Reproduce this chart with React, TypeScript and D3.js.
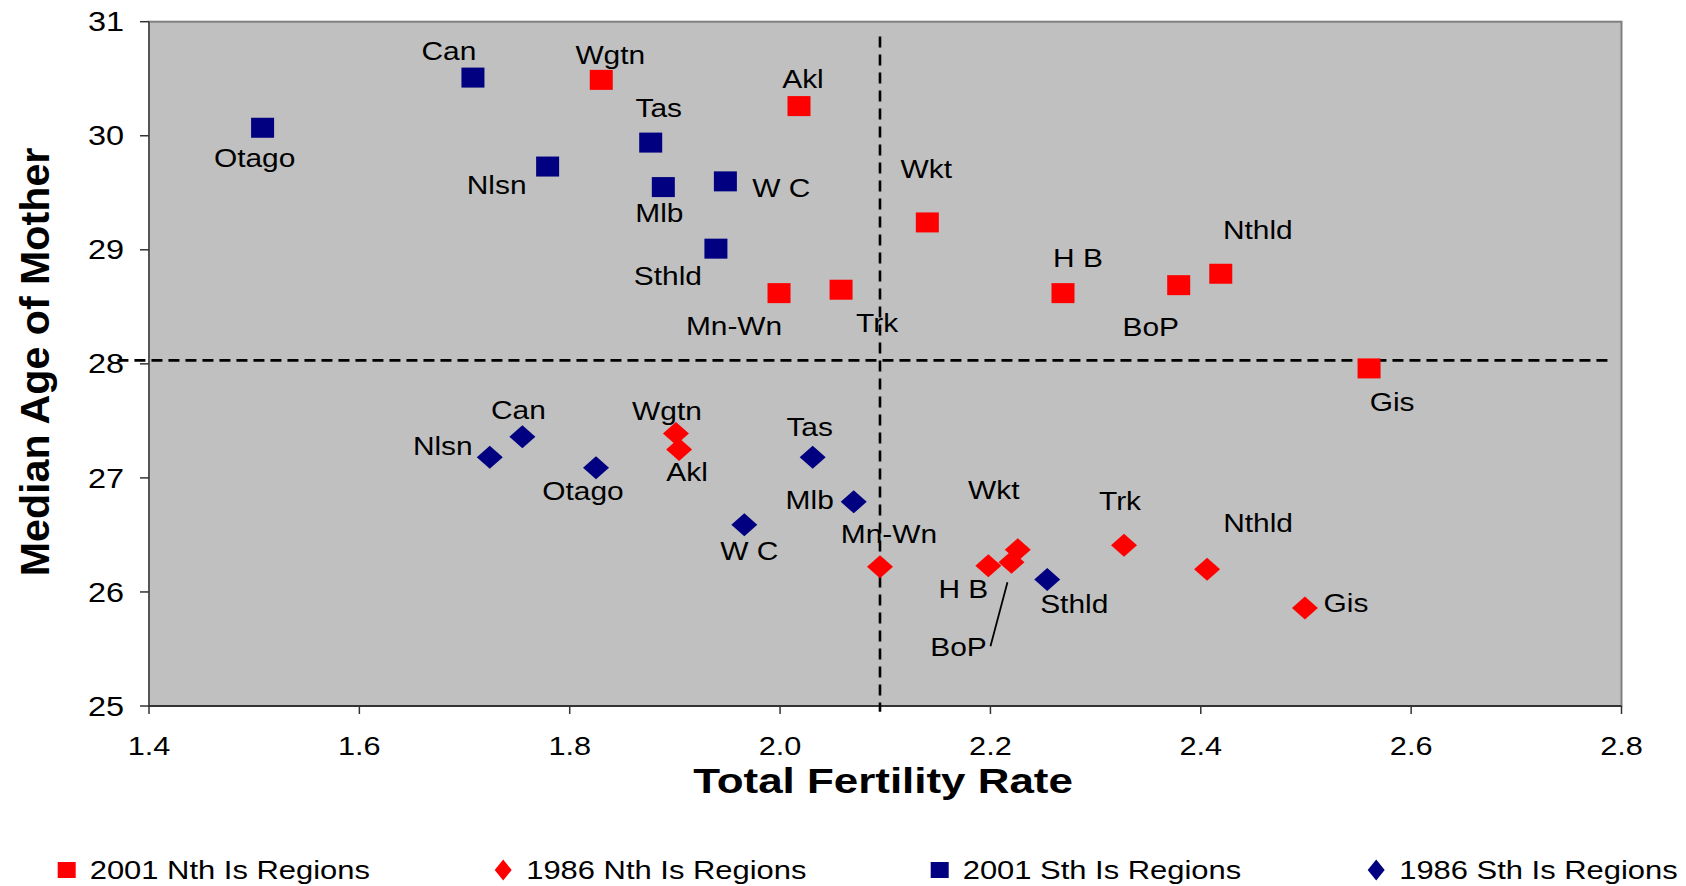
import React from "react";
import * as d3 from "d3";

// ---------- data ----------
const nth2001Names = ["Wgtn", "Akl", "Wkt", "Mn-Wn", "Trk", "H B", "BoP", "Nthld", "Gis"];
const nth2001TFR = [1.830, 2.018, 2.140, 1.999, 2.058, 2.269, 2.379, 2.419, 2.560];
const nth2001Age = [30.49, 30.26, 29.24, 28.62, 28.65, 28.62, 28.69, 28.79, 27.96];

const nth1986Names = ["Wgtn", "Akl", "Mn-Wn", "Wkt", "H B", "BoP", "Trk", "Nthld", "Gis"];
const nth1986TFR = [1.901, 1.904, 2.095, 2.226, 2.198, 2.220, 2.327, 2.406, 2.499];
const nth1986Age = [27.39, 27.25, 26.22, 26.37, 26.23, 26.26, 26.41, 26.20, 25.86];

const sth2001Names = ["Otago", "Can", "Tas", "Nlsn", "Mlb", "W C", "Sthld"];
const sth2001TFR = [1.508, 1.708, 1.877, 1.779, 1.889, 1.948, 1.939];
const sth2001Age = [30.07, 30.51, 29.94, 29.73, 29.55, 29.60, 29.01];

const sth1986Names = ["Can", "Nlsn", "Otago", "Tas", "Mlb", "W C", "Sthld"];
const sth1986TFR = [1.755, 1.724, 1.825, 2.031, 2.070, 1.966, 2.254];
const sth1986Age = [27.36, 27.18, 27.09, 27.18, 26.79, 26.59, 26.11];

const seriesNames = ["2001 Nth Is Regions", "1986 Nth Is Regions", "2001 Sth Is Regions", "1986 Sth Is Regions"];

const xTicks = [1.4, 1.6, 1.8, 2.0, 2.2, 2.4, 2.6, 2.8];
const yTicks = [25, 26, 27, 28, 29, 30, 31];

const refTFR = 2.095;
const refAge = 28.03;

const xTitle = "Total Fertility Rate";
const yTitle = "Median Age of Mother";

// ---------- label placement (px offsets from marker centre: text centre x, baseline y) ----------
const nth2001LabelOff = [[9, -16], [4, -18], [-1, -44], [-45, 42], [36, 42], [15, -26], [-28, 51], [37, -35], [23, 43]];
const nth1986LabelOff = [[-9, -13], [8, 32], [9, -24], [-24, -51], [-25, 32], [-53, 94], [-4, -35], [51, -37], [41, 4]];
const sth2001LabelOff = [[-8, 39], [-24, -18], [8, -26], [-51, 27], [-4, 35], [56, 16], [-48, 36]];
const sth1986LabelOff = [[-4, -18], [-47, -2], [-13, 32], [-3, -21], [-44, 7], [5, 35], [27, 34]];
// leader line for 1986 BoP (relative to marker)
const bopLeader = [-4, 20, -21, 84];

// ---------- styles ----------
const W = 1686, H = 886;
const RED = "#FF0000", NAVY = "#000080";
const FONT = "'Liberation Sans', Arial, sans-serif";

function T({ x, y, size, sx = 1.18, anchor = "middle", bold = false, rotate = 0, children, dy }: any) {
  return (
    <text
      transform={`translate(${x},${y}) rotate(${rotate}) scale(${sx},1)`}
      fontFamily={FONT}
      fontSize={size}
      fontWeight={bold ? "bold" : "normal"}
      textAnchor={anchor}
      dy={dy}
      fill="#000"
    >
      {children}
    </text>
  );
}

function Square({ cx, cy, w, h, color }: any) {
  return <rect x={cx - w / 2} y={cy - h / 2} width={w} height={h} fill={color} />;
}
function Diamond({ cx, cy, w, h, color }: any) {
  return (
    <path
      d={`M${cx},${cy - h / 2}L${cx + w / 2},${cy}L${cx},${cy + h / 2}L${cx - w / 2},${cy}Z`}
      fill={color}
    />
  );
}

export default function App() {
  const left = 149, right = 1621.5, top = 21.7, bottom = 706;
  const x = d3.scaleLinear().domain([1.4, 2.8]).range([left, right]);
  const y = d3.scaleLinear().domain([25, 31]).range([bottom, top]);
  const fmt = d3.format(".1f");

  const series = [
    { names: nth2001Names, tfr: nth2001TFR, age: nth2001Age, off: nth2001LabelOff, color: RED, shape: "sq" },
    { names: nth1986Names, tfr: nth1986TFR, age: nth1986Age, off: nth1986LabelOff, color: RED, shape: "di" },
    { names: sth2001Names, tfr: sth2001TFR, age: sth2001Age, off: sth2001LabelOff, color: NAVY, shape: "sq" },
    { names: sth1986Names, tfr: sth1986TFR, age: sth1986Age, off: sth1986LabelOff, color: NAVY, shape: "di" },
  ];

  const bopIdx = nth1986Names.indexOf("BoP");
  const bx = x(nth1986TFR[bopIdx]), by = y(nth1986Age[bopIdx]);

  const legendX0 = 66.7, legendStep = 436.5, legendY = 870;

  return (
    <svg width={W} height={H} style={{ position: "absolute", left: 0, top: 0, background: "#fff" }}>
      <rect x={0} y={0} width={W} height={H} fill="#fff" />
      {/* plot area */}
      <rect x={left} y={top} width={right - left} height={bottom - top} fill="#C0C0C0" stroke="#808080" strokeWidth={2} />
      <line x1={left} y1={top} x2={left} y2={bottom} stroke="#555" strokeWidth={2} />
      <line x1={left} y1={bottom} x2={right} y2={bottom} stroke="#333" strokeWidth={2} />

      {/* y ticks */}
      {yTicks.map((t) => (
        <g key={"yt" + t}>
          <line x1={left - 9} x2={left} y1={y(t)} y2={y(t)} stroke="#333" strokeWidth={1.5} />
          <T x={124} y={y(t)} size={27.5} sx={1.18} anchor="end" dy="0.35em">{String(t)}</T>
        </g>
      ))}
      {/* x ticks */}
      {xTicks.map((t) => (
        <g key={"xt" + t}>
          <line x1={x(t)} x2={x(t)} y1={bottom} y2={bottom + 8} stroke="#333" strokeWidth={1.5} />
          <T x={x(t)} y={755} size={26} sx={1.18}>{fmt(t)}</T>
        </g>
      ))}

      {/* reference dashed lines */}
      <line x1={x(refTFR)} x2={x(refTFR)} y1={y(30.87)} y2={y(24.95)} stroke="#000" strokeWidth={2.6} strokeDasharray="11,7" />
      <line x1={x(1.37)} x2={x(2.792)} y1={y(refAge)} y2={y(refAge)} stroke="#000" strokeWidth={2.8} strokeDasharray="11,6" />

      {/* markers */}
      {series.map((s, si) =>
        s.tfr.map((v, i) =>
          s.shape === "sq" ? (
            <Square key={`m${si}-${i}`} cx={x(v)} cy={y(s.age[i])} w={23} h={20} color={s.color} />
          ) : (
            <Diamond key={`m${si}-${i}`} cx={x(v)} cy={y(s.age[i])} w={26} h={23} color={s.color} />
          )
        )
      )}

      {/* labels */}
      {series.map((s, si) =>
        s.names.map((n, i) => (
          <T key={`l${si}-${i}`} x={x(s.tfr[i]) + s.off[i][0]} y={y(s.age[i]) + s.off[i][1]} size={26} sx={1.15}>
            {n}
          </T>
        ))
      )}
      <line x1={bx + bopLeader[0]} y1={by + bopLeader[1]} x2={bx + bopLeader[2]} y2={by + bopLeader[3]} stroke="#000" strokeWidth={1.8} />

      {/* axis titles */}
      <T x={883} y={793} size={36} bold sx={1.22}>{xTitle}</T>
      <T x={49} y={362} size={40} bold sx={1.03} rotate={-90}>{yTitle}</T>

      {/* legend */}
      {seriesNames.map((n, i) => {
        const cx = legendX0 + i * legendStep;
        const s = series[i];
        return (
          <g key={"lg" + i}>
            {s.shape === "sq" ? (
              <Square cx={cx} cy={legendY} w={18} h={16} color={s.color} />
            ) : (
              <Diamond cx={cx} cy={legendY} w={17} h={21} color={s.color} />
            )}
            <T x={cx + 23} y={879} size={26} sx={1.19} anchor="start">{n}</T>
          </g>
        );
      })}
    </svg>
  );
}
